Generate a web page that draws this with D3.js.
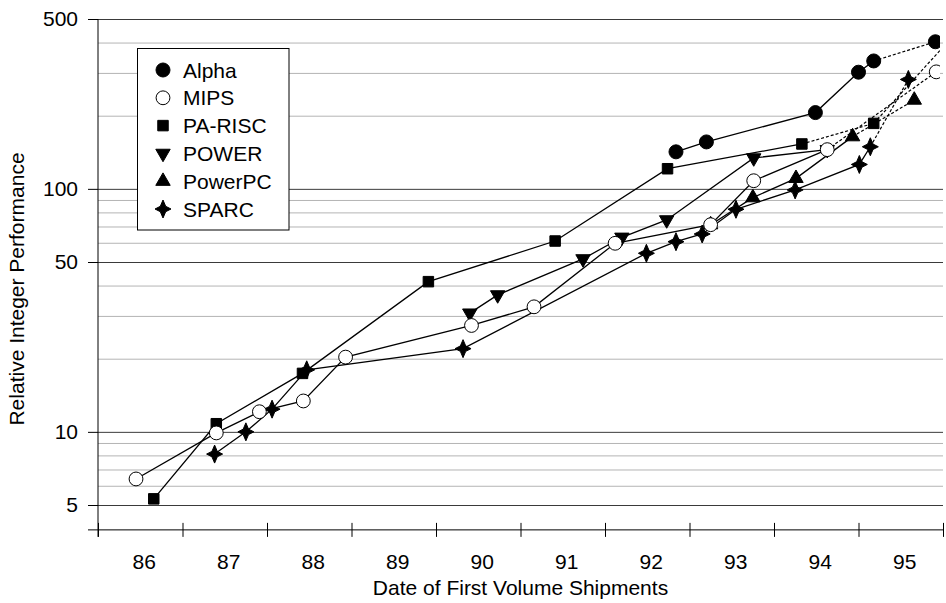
<!DOCTYPE html>
<html>
<head>
<meta charset="utf-8">
<script src="https://cdn.jsdelivr.net/npm/d3@7/dist/d3.min.js"></script>
<style>
  body { margin: 0; background: #fff; }
  text { font-family: "Liberation Sans", Arial, sans-serif; fill: #000; }
</style>
</head>
<body>
<svg id="chart" width="946" height="603"></svg>
<script>
// data (year of first volume shipments, relative integer performance)
const seriesNames = ['Alpha', 'MIPS', 'PA-RISC', 'POWER', 'PowerPC', 'SPARC'];

const alphaYear = [92.84, 93.20, 94.49, 95.00, 95.18, 95.91];
const alphaPerf = [142, 156, 206, 302, 336, 403];

const mipsYear = [86.45, 87.40, 87.91, 88.43, 88.93, 90.42, 91.16, 92.12, 93.25, 93.76, 94.63, 95.92];
const mipsPerf = [6.4, 9.9, 12.1, 13.4, 20.3, 27.4, 32.7, 59.7, 71.2, 108, 145, 303];

const paRiscYear = [86.66, 87.40, 88.42, 89.91, 91.41, 92.74, 94.33, 95.18, 96.15];
const paRiscPerf = [5.3, 10.8, 17.4, 41.5, 61.0, 121, 153, 186, 437];

const powerYear = [90.40, 90.73, 91.74, 92.20, 92.73, 93.76, 94.63];
const powerPerf = [30.8, 36.6, 51.5, 63.2, 74.5, 134, 145];

const powerPcYear = [93.25, 93.75, 94.26, 94.93, 95.66];
const powerPcPerf = [71.2, 92.0, 110.5, 164, 232];

const sparcYear = [87.38, 87.75, 88.06, 88.47, 90.32, 92.49, 92.84, 93.15, 93.55, 94.25, 95.01, 95.14, 95.59];
const sparcPerf = [8.1, 10.0, 12.4, 18.0, 22.0, 54.3, 60.6, 65.2, 82.4, 99.0, 126, 149, 282];

// index of the first point of the projected (dotted) part of each series
const projectedFrom = [4, 10, 6, null, 3, 11];

const yearTicks = [86, 87, 88, 89, 90, 91, 92, 93, 94, 95, 96];
const yearLabels = ['86', '87', '88', '89', '90', '91', '92', '93', '94', '95'];
const perfTicks = [5, 10, 50, 100, 500];
const perfMinor = [6, 7, 8, 9, 20, 30, 40, 60, 70, 80, 90, 200, 300, 400];

const years = [alphaYear, mipsYear, paRiscYear, powerYear, powerPcYear, sparcYear];
const perfs = [alphaPerf, mipsPerf, paRiscPerf, powerPerf, powerPcPerf, sparcPerf];

const svg = d3.select('#chart');

const plotLeft = 98, plotRight = 943, plotTop = 19;

const x = d3.scaleLinear().domain([86, 96]).range([plotLeft, plotRight]);
const y = d3.scaleLog().domain([5, 500]).range([505, plotTop]);
const axisY = y(3.95);

// gridlines
const grid = svg.append('g');
grid.append('g')
  .attr('transform', `translate(${plotLeft},0)`)
  .call(d3.axisLeft(y).tickValues(perfMinor).tickSize(-(plotRight - plotLeft)).tickFormat(''))
  .call(g => g.select('.domain').remove())
  .selectAll('line').attr('stroke', '#b4b4b4');
grid.append('g')
  .attr('transform', `translate(${plotLeft},0)`)
  .call(d3.axisLeft(y).tickValues(perfTicks).tickSize(-(plotRight - plotLeft)).tickFormat(''))
  .call(g => g.select('.domain').remove())
  .selectAll('line').attr('stroke', '#3a3a3a');

// y axis
const yAxisG = svg.append('g')
  .attr('transform', `translate(${plotLeft},0)`)
  .call(d3.axisLeft(y).tickValues(perfTicks).tickSize(10).tickPadding(10).tickFormat(d3.format('d')));
yAxisG.select('.domain').remove();
yAxisG.selectAll('line').attr('stroke', '#000');
yAxisG.selectAll('text').style('font-size', '21px').attr('fill', '#000')
  .style('font-family', '"Liberation Sans", Arial, sans-serif');

svg.append('line')
  .attr('x1', plotLeft).attr('x2', plotLeft)
  .attr('y1', plotTop).attr('y2', axisY + 7)
  .attr('stroke', '#000');

// x axis
const xAxisG = svg.append('g')
  .attr('transform', `translate(0,${axisY - 7})`)
  .call(d3.axisBottom(x).tickValues(yearTicks).tickSize(14).tickFormat(''));
xAxisG.select('.domain').remove();
xAxisG.selectAll('line').attr('stroke', '#000');

svg.append('line')
  .attr('x1', plotLeft - 10).attr('x2', plotRight)
  .attr('y1', axisY).attr('y2', axisY)
  .attr('stroke', '#000');

svg.append('g').selectAll('text')
  .data(yearLabels)
  .join('text')
  .attr('x', d => x(+d + 0.5) + 4)
  .attr('y', 569)
  .attr('text-anchor', 'middle')
  .style('font-size', '21px')
  .text(d => d);

svg.append('text')
  .attr('x', (plotLeft + plotRight) / 2)
  .attr('y', 595)
  .attr('text-anchor', 'middle')
  .style('font-size', '21px')
  .text('Date of First Volume Shipments');

svg.append('text')
  .attr('transform', 'translate(24,289) rotate(-90)')
  .attr('text-anchor', 'middle')
  .style('font-size', '21px')
  .text('Relative Integer Performance');

// data lines
svg.append('clipPath').attr('id', 'plotClip')
  .append('rect').attr('x', plotLeft).attr('y', 0).attr('width', 940 - plotLeft).attr('height', 603);

const plot = svg.append('g').attr('clip-path', 'url(#plotClip)');

const lineGen = d3.line().x(d => x(d[0])).y(d => y(d[1]));

seriesNames.forEach((name, i) => {
  const pts = years[i].map((yr, j) => [yr, perfs[i][j]]);
  const p = projectedFrom[i];
  const solid = p === null ? pts : pts.slice(0, p + 1);
  plot.append('path')
    .attr('d', lineGen(solid))
    .attr('fill', 'none')
    .attr('stroke', '#000')
    .attr('stroke-width', 1.3);
  if (p !== null) {
    plot.append('path')
      .attr('d', lineGen(pts.slice(p)))
      .attr('fill', 'none')
      .attr('stroke', '#000')
      .attr('stroke-width', 1.2)
      .attr('stroke-dasharray', '3,2');
  }
});

// markers
const starPath = 'M0,-9L2.7,-2.7L8,0L2.7,2.7L0,9L-2.7,2.7L-8,0L-2.7,-2.7Z';
const markerStyle = {
  'Alpha': { d: d3.symbol(d3.symbolCircle, 154)(), fill: '#000', rot: 0 },
  'MIPS': { d: d3.symbol(d3.symbolCircle, 150)(), fill: '#fff', rot: 0 },
  'PA-RISC': { d: d3.symbol(d3.symbolSquare, 110)(), fill: '#000', rot: 0 },
  'POWER': { d: d3.symbol(d3.symbolTriangle, 90)(), fill: '#000', rot: 180 },
  'PowerPC': { d: d3.symbol(d3.symbolTriangle, 90)(), fill: '#000', rot: 0 },
  'SPARC': { d: starPath, fill: '#000', rot: 0 }
};

function drawMarker(g, name, cx, cy) {
  const m = markerStyle[name];
  g.append('path')
    .attr('d', m.d)
    .attr('transform', `translate(${cx},${cy}) rotate(${m.rot})`)
    .attr('fill', m.fill)
    .attr('stroke', '#000')
    .attr('stroke-width', 1);
}

const drawOrder = ['PA-RISC', 'POWER', 'PowerPC', 'SPARC', 'Alpha', 'MIPS'];
drawOrder.forEach(name => {
  const i = seriesNames.indexOf(name);
  const g = plot.append('g');
  years[i].forEach((yr, j) => drawMarker(g, name, x(yr), y(perfs[i][j])));
});

// legend
const legend = svg.append('g');
legend.append('rect')
  .attr('x', 137.5).attr('y', 48.5)
  .attr('width', 151.5).attr('height', 181.5)
  .attr('fill', '#fff').attr('stroke', '#000');

seriesNames.forEach((name, i) => {
  const ly = 70 + i * 27.8;
  drawMarker(legend, name, 163, ly);
  legend.append('text')
    .attr('x', 183)
    .attr('y', ly)
    .attr('dy', '0.36em')
    .style('font-size', '21px')
    .text(name);
});
</script>
</body>
</html>
